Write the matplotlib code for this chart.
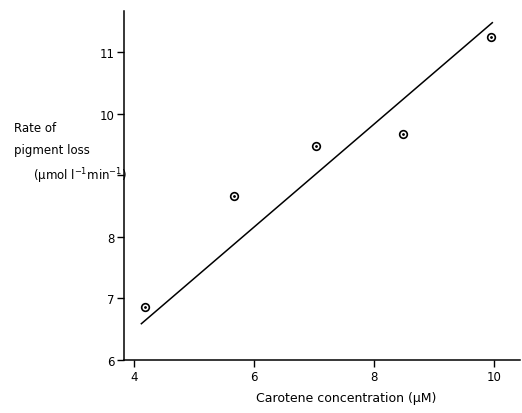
import matplotlib.pyplot as plt

# carotene concentration (uM) vs rate of pigment loss
conc = [4.18, 5.67, 7.03, 8.48, 9.95]
rate = [6.86, 8.67, 9.48, 9.67, 11.25]

# fitted line end points
fit_x = [4.12, 9.97]
fit_y = [6.59, 11.48]

yticks = [6, 7, 8, 9, 10, 11]
ylabels = ['6', '7', '8', '', '10', '11']
xticks = [4, 6, 8, 10]

plt.rcParams['font.family'] = 'DejaVu Sans'
plt.rcParams['font.size'] = 8.5

fig = plt.figure(figsize=(5.22, 4.14), dpi=100)
ax = fig.add_axes([0.2375, 0.128, 0.7585, 0.843])

ax.plot(fit_x, fit_y, color='black', lw=1.1)
ax.plot(conc, rate, 'o', mfc='white', mec='black', mew=1.2, ms=5.5)
ax.plot(conc, rate, '.', color='black', ms=2)

ax.set_xlim(3.83, 10.43)
ax.set_ylim(6, 11.67)
ax.set_xticks(xticks)
ax.set_yticks(yticks)
ax.set_yticklabels(ylabels)
ax.tick_params(direction='out', length=5, width=1, pad=2)

for s in ['top', 'right']:
    ax.spines[s].set_visible(False)
for s in ['left', 'bottom']:
    ax.spines[s].set_linewidth(1.1)

ax.set_xlabel('Carotene concentration (\u00b5M)', fontsize=9)
ax.xaxis.set_label_coords(0.56, -0.09)
fig.text(0.027, 0.69, 'Rate of', ha='left', va='center')
fig.text(0.027, 0.637, 'pigment loss', ha='left', va='center')
fig.text(0.063, 0.575, '(\u00b5mol l$^{-1}$min$^{-1}$)', ha='left', va='center')

fig.savefig('out.png', dpi=100)
